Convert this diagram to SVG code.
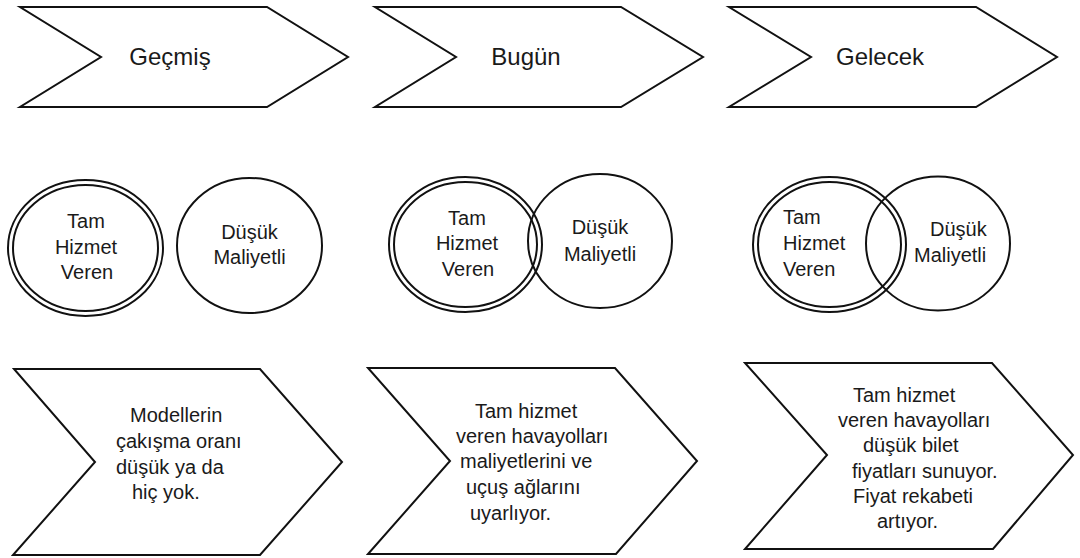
<svg xmlns="http://www.w3.org/2000/svg" width="1080" height="558" viewBox="0 0 1080 558">
<style>
.shape{fill:#fff;stroke:#111;stroke-width:2;stroke-linejoin:miter}
.ring{fill:none;stroke:#111;stroke-width:2}
.t{font-family:"Liberation Sans",Arial,sans-serif;fill:#1a1a1a}
.h{font-size:24px;text-anchor:middle}
.c{font-size:20px;text-anchor:middle}
.s{font-size:20px}
</style>
<rect width="1080" height="558" fill="#fff"/>
<g id="phase-gecmis">
<polygon class="shape" points="20,7 267,7 348,57 267,107 20,107 101,57"/>
<text class="t h" x="170" y="65">Geçmiş</text>
</g>
<g id="phase-bugun">
<polygon class="shape" points="375,7 621,7 703,57 621,107 375,107 456,57"/>
<text class="t h" x="526" y="65">Bugün</text>
</g>
<g id="phase-gelecek">
<polygon class="shape" points="729,7 976,7 1057,57 976,107 729,107 811,57"/>
<text class="t h" x="880" y="65">Gelecek</text>
</g>
<g id="venn-gecmis">
<ellipse class="ring" cx="85.5" cy="248" rx="77.5" ry="68"/>
<ellipse class="ring" cx="85.5" cy="248" rx="72.5" ry="63"/>
<ellipse class="ring" cx="249.5" cy="245.5" rx="72.5" ry="67.5"/>
<text class="t c" x="86" y="228">Tam</text>
<text class="t c" x="86" y="254">Hizmet</text>
<text class="t c" x="87" y="279">Veren</text>
<text class="t c" x="249.5" y="239">Düşük</text>
<text class="t c" x="249.5" y="264">Maliyetli</text>
</g>
<g id="venn-bugun">
<ellipse class="ring" cx="465.5" cy="244.5" rx="76.5" ry="67.5"/>
<ellipse class="ring" cx="465.5" cy="244.5" rx="71.5" ry="62.5"/>
<ellipse class="ring" cx="600" cy="241" rx="72" ry="67"/>
<text class="t c" x="467" y="225">Tam</text>
<text class="t c" x="467" y="250">Hizmet</text>
<text class="t c" x="468" y="276">Veren</text>
<text class="t c" x="600" y="234">Düşük</text>
<text class="t c" x="600" y="261">Maliyetli</text>
</g>
<g id="venn-gelecek">
<ellipse class="ring" cx="829.5" cy="244.5" rx="76.5" ry="67.5"/>
<ellipse class="ring" cx="829.5" cy="244.5" rx="71.5" ry="62.5"/>
<ellipse class="ring" cx="938" cy="243.5" rx="72" ry="67"/>
<text class="t s" x="783" y="224">Tam</text>
<text class="t s" x="783" y="250">Hizmet</text>
<text class="t s" x="783" y="276">Veren</text>
<text class="t s" x="930" y="236">Düşük</text>
<text class="t s" x="914" y="262">Maliyetli</text>
</g>
<g id="desc-gecmis">
<polygon class="shape" points="14,369 260,369 342,462 260,555 13,555 95,462"/>
<text class="t s" x="130" y="422">Modellerin</text>
<text class="t s" x="116" y="448">çakışma oranı</text>
<text class="t s" x="116" y="474">düşük ya da</text>
<text class="t s" x="132" y="499">hiç yok.</text>
</g>
<g id="desc-bugun">
<polygon class="shape" points="368,368 615,368 697,461 616,554 368,554 450,461"/>
<text class="t s" x="475" y="418">Tam hizmet</text>
<text class="t s" x="456" y="443">veren havayolları</text>
<text class="t s" x="460" y="468">maliyetlerini ve</text>
<text class="t s" x="466" y="494">uçuş ağlarını</text>
<text class="t s" x="470" y="520">uyarlıyor.</text>
</g>
<g id="desc-gelecek">
<polygon class="shape" points="745,363 992,363 1073,455 993,549 745,549 827,455"/>
<text class="t s" x="853" y="402">Tam hizmet</text>
<text class="t s" x="838" y="427">veren havayolları</text>
<text class="t s" x="863" y="452">düşük bilet</text>
<text class="t s" x="852" y="478">fiyatları sunuyor.</text>
<text class="t s" x="853" y="503">Fiyat rekabeti</text>
<text class="t s" x="877" y="528">artıyor.</text>
</g>
<g id="connectors"></g>
</svg>
